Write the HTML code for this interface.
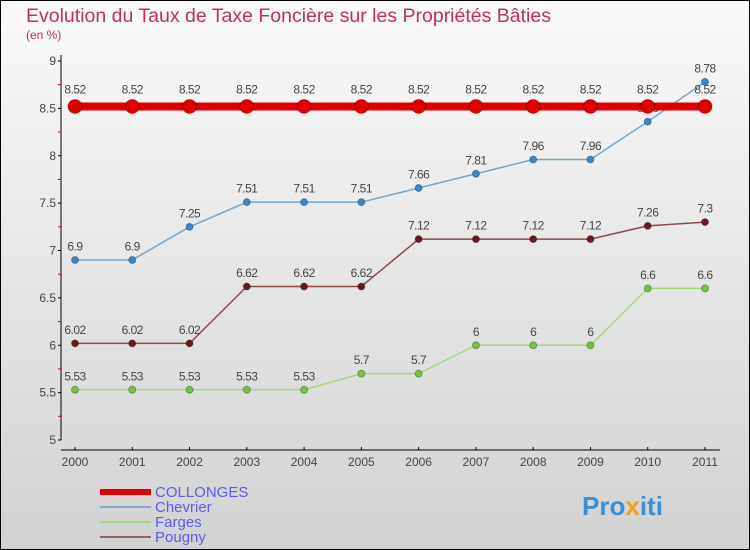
<!DOCTYPE html>
<html><head><meta charset="utf-8"><style>
body{margin:0}
svg{display:block;font-family:"Liberation Sans",sans-serif}
</style></head><body>
<svg id="c" width="750" height="550">
<defs><linearGradient id="bg" x1="0" y1="0" x2="0" y2="1"><stop offset="0" stop-color="#fafafa"/><stop offset="1" stop-color="#d2d2d2"/></linearGradient></defs>
<rect x="0.5" y="0.5" width="749" height="549" fill="url(#bg)" stroke="#000"/>
<text x="26" y="22" font-size="19.5" fill="#c0305a">Evolution du Taux de Taxe Foncière sur les Propriétés Bâties</text>
<text x="26" y="39" font-size="12" fill="#c0305a">(en %)</text>
<g id="axes"></g><g id="series"></g><g id="legend"></g>
<text x="582" y="515" font-size="26" font-weight="bold" fill="#3b8fd6">Pro<tspan fill="#f0a020">x</tspan>iti</text>
</svg>
<script>
const years=[2000,2001,2002,2003,2004,2005,2006,2007,2008,2009,2010,2011];
const yTicks=[5,5.5,6,6.5,7,7.5,8,8.5,9];
const collonges=[8.52,8.52,8.52,8.52,8.52,8.52,8.52,8.52,8.52,8.52,8.52,8.52];
const chevrier=[6.9,6.9,7.25,7.51,7.51,7.51,7.66,7.81,7.96,7.96,8.36,8.78];
const farges=[5.53,5.53,5.53,5.53,5.53,5.7,5.7,6,6,6,6.6,6.6];
const pougny=[6.02,6.02,6.02,6.62,6.62,6.62,7.12,7.12,7.12,7.12,7.26,7.3];
const NS="http://www.w3.org/2000/svg";
const X=i=>75+i*(705-75)/(years.length-1);
const Y=v=>440-(v-5)*(440-61)/4;
function mk(p,t,a){const e=document.createElementNS(NS,t);for(const k in a)e.setAttribute(k,a[k]);p.appendChild(e);return e;}
const ax=document.getElementById('axes');
let e=mk(ax,'line',{x1:61,y1:55,x2:61,y2:440,stroke:'#000'});


e=mk(ax,'line',{x1:61,y1:450,x2:720,y2:450,stroke:'#000'});


yTicks.forEach(v=>{
 mk(ax,'line',{x1:58,x2:61,y1:Y(v),y2:Y(v),stroke:'#000'});
 if(v<9) mk(ax,'line',{x1:58,x2:61,y1:Y(v+0.25),y2:Y(v+0.25),stroke:'#d00'});
 const t=mk(ax,'text',{x:56,y:Y(v)+4,'font-size':12,fill:'#444','text-anchor':'end'});
 t.textContent=v;
 
 
});
years.forEach((y,i)=>{
 mk(ax,'line',{x1:X(i),x2:X(i),y1:447,y2:450,stroke:'#000'});
 const t=mk(ax,'text',{x:X(i),y:466,'font-size':12,fill:'#444','text-anchor':'middle'});
 t.textContent=y;
 
 
});
const S=document.getElementById('series');
function draw(name,vals,col,dot,w,r){
 const g=mk(S,'g',{});
 
 
 mk(g,'polyline',{points:vals.map((v,i)=>X(i)+','+Y(v)).join(' '),fill:'none',stroke:col,'stroke-width':w});
 vals.forEach((v,i)=>{
  const c=mk(g,'circle',{cx:X(i),cy:Y(v),r:r,fill:dot,stroke:'#0000004d'});
  
  
  const t=mk(g,'text',{x:X(i),y:Y(v)-(r+6),'font-size':12,fill:'#444','text-anchor':'middle','letter-spacing':'-0.5'});
  t.textContent=v;
  
  
 });
}
draw('pougny',pougny,'#8a4a4a','#6a1a1a',1.5,3.5);
draw('farges',farges,'#a0d880','#70c840',1.5,3.5);
draw('chevrier',chevrier,'#70a8d0','#3a88c8',1.5,3.5);
draw('collonges',collonges,'#e00000','#e00000',8,7);
const L=document.getElementById('legend');
[['COLLONGES','#e00000',6,16],['Chevrier','#80b0d0',2,12],['Farges','#a0d880',2,12],['Pougny','#9a6060',2,12]].forEach((d,i)=>{
 const y=492+i*15;
 const g=mk(L,'g',{});
 
 
 mk(g,'line',{x1:100,x2:151,y1:y,y2:y,stroke:d[1],'stroke-width':d[2]});
 const t=mk(g,'text',{x:155,y:y+5,'font-size':15,fill:'#5a5af0'});
 t.textContent=d[0];
});
</script>
</body></html>
